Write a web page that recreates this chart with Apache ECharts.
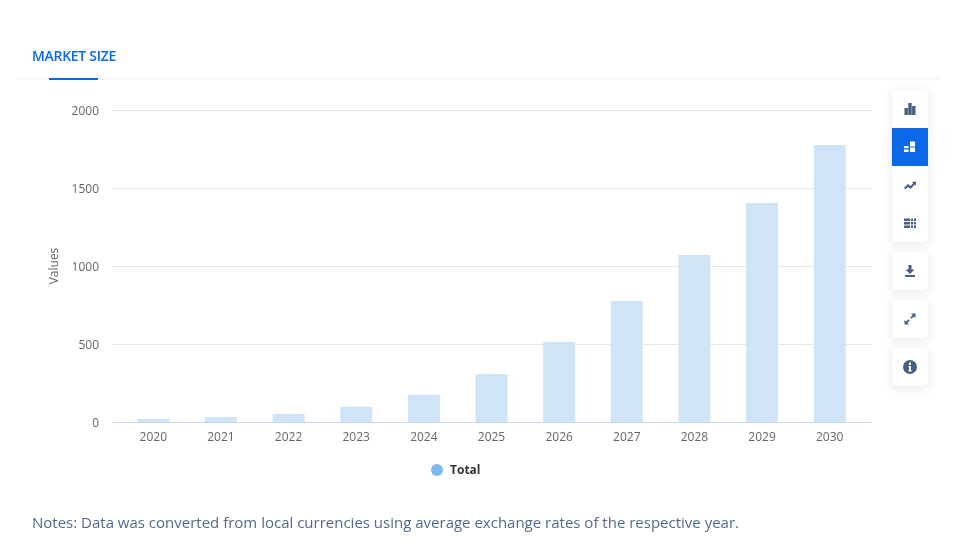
<!DOCTYPE html>
<html lang="en">

<head>
    <meta charset="UTF-8">
    <title>Market size</title>
    <style>
        html, body { margin: 0; padding: 0; background: #fff; font-family: "Open Sans", sans-serif; }
        #page { position: relative; width: 958px; height: 559px; overflow: hidden; }
        #main { position: absolute; left: 0; top: 0; width: 958px; height: 559px; }
        .tab { position: absolute; left: 32px; top: 46px; font-size: 14px; line-height: 19px; font-weight: 600; color: #0b68e8; letter-spacing: -0.3px; }
        .tabline { position: absolute; left: 17px; top: 78px; width: 922px; height: 2px; background: #f4f7fb; }
        .tabactive { position: absolute; left: 49px; top: 78px; width: 49px; height: 2px; background: #0b68e8; }
        .note { position: absolute; left: 32px; top: 512px; font-size: 15px; line-height: 21px; color: #54698a; white-space: nowrap; }
        .box { position: absolute; left: 892px; width: 36px; background: #fff; border-radius: 4px; box-shadow: 0 2px 10px rgba(60, 80, 120, 0.14); overflow: hidden; }
        .btn { width: 36px; height: 38px; display: flex; align-items: center; justify-content: center; }
        .btn.on { background: #0b68e8; }
        .btn svg { width: 14px; height: 14px; fill: #48607f; }
        .btn.on svg { fill: #fff; }
    </style>
</head>

<body>
    <div id="page">
        <div id="main"></div>
        <div class="tab">MARKET SIZE</div>
        <div class="tabline"></div>
        <div class="tabactive"></div>
        <div class="note">Notes: Data was converted from local currencies using average exchange rates of the respective year.</div>

        <div class="box" style="top:90px;">
            <div class="btn"><svg viewBox="0 0 14 14"><rect x="1.5" y="6" width="3.4" height="7"/><rect x="5.3" y="1" width="3.4" height="12"/><rect x="9.1" y="4" width="3.4" height="9"/></svg></div>
            <div class="btn on"><svg viewBox="0 0 14 14"><rect x="1" y="6" width="4.5" height="2.2"/><rect x="1" y="9.5" width="4.5" height="2.5"/><rect x="7" y="1.5" width="5" height="5"/><rect x="7" y="7.5" width="5" height="4.5"/></svg></div>
            <div class="btn"><svg viewBox="0 0 14 14"><path d="M1 9.8 L5 6 L7.5 8 L10.2 5.3 L9 4 L13 3.5 L13 7.7 L11.8 6.5 L7.6 11 L5 9 L2.4 11.6 Z"/></svg></div>
            <div class="btn"><svg viewBox="0 0 14 14"><rect x="1" y="2.5" width="6" height="2.5"/><rect x="1" y="6" width="6" height="2.5"/><rect x="1" y="9.5" width="6" height="2.5"/><rect x="8" y="2.5" width="2" height="2.5"/><rect x="11" y="2.5" width="2" height="2.5"/><rect x="8" y="6" width="2" height="2.5"/><rect x="11" y="6" width="2" height="2.5"/><rect x="8" y="9.5" width="2" height="2.5"/><rect x="11" y="9.5" width="2" height="2.5"/></svg></div>
        </div>
        <div class="box" style="top:252px;">
            <div class="btn"><svg viewBox="0 0 14 14"><path d="M5.5 1 H8.5 V5.5 H11.5 L7 10 L2.5 5.5 H5.5 Z"/><rect x="2" y="11" width="10" height="2"/></svg></div>
        </div>
        <div class="box" style="top:300px;">
            <div class="btn"><svg viewBox="0 0 14 14"><path d="M8 1.5 H12.5 V6 L10.9 4.4 L8.6 6.7 L7.3 5.4 L9.6 3.1 Z"/><path d="M6 12.5 H1.5 V8 L3.1 9.6 L5.4 7.3 L6.7 8.6 L4.4 10.9 Z"/></svg></div>
        </div>
        <div class="box" style="top:348px;">
            <div class="btn"><svg viewBox="0 0 14 14"><path fill-rule="evenodd" d="M7 0 A7 7 0 1 1 7 14 A7 7 0 1 1 7 0 Z M6 2.6 V5 H8 V2.6 Z M5.4 6 V7.2 H6 V10.2 H5.4 V11.4 H8.6 V10.2 H8 V6 Z"/></svg></div>
        </div>
    </div>
</body>
<script src="https://cdn.jsdelivr.net/npm/echarts@6/dist/echarts.min.js"></script>
<script>
    var myChart = echarts.init(document.getElementById('main'));
    var years = ['2020', '2021', '2022', '2023', '2024', '2025', '2026', '2027', '2028', '2029', '2030'];
    var total = [20, 32, 52, 97, 175, 308, 513, 776, 1071, 1404, 1776];

    // 两个grid: 第一个画网格线和轴线(比柱子区域宽), 第二个画柱子
    var option = {
        animation: false,
        textStyle: { fontFamily: '"Open Sans", sans-serif' },
        grid: [
            { left: 113, right: 87, top: 110, bottom: 137 },
            { left: 119.5, right: 94.5, top: 110, bottom: 137 }
        ],
        legend: {
            show: true,
            left: 426,
            top: 459,
            icon: 'circle',
            itemWidth: 12,
            itemHeight: 12,
            data: [{ name: 'Total', itemStyle: { color: '#7cb9ee' } }],
            textStyle: {
                color: '#333333',
                fontSize: 12,
                fontWeight: 'bold',
                rich: { t: { padding: [2, 0, 0, 2], fontSize: 12, fontWeight: 'bold', color: '#333333' } }
            },
            formatter: function (name) {
                return '{t|' + name + '}';
            }
        },
        xAxis: [
            {
                gridIndex: 0,
                type: 'category',
                data: [''],
                axisTick: { show: false },
                axisLabel: { show: false },
                axisLine: { lineStyle: { color: '#ccd6eb' } }
            },
            {
                gridIndex: 1,
                type: 'category',
                data: years,
                axisTick: { alignWithLabel: true, length: 10, lineStyle: { color: '#e6ebf5' } },
                axisLine: { show: false },
                axisLabel: { color: '#666666', fontSize: 12, margin: 10, interval: 0 }
            }
        ],
        yAxis: [
            {
                gridIndex: 0,
                type: 'value',
                min: 0,
                max: 2000,
                interval: 500,
                name: 'Values',
                nameLocation: 'middle',
                nameGap: 51,
                nameTextStyle: { color: '#666666', fontSize: 12 },
                axisLine: { show: false },
                axisTick: { show: false },
                axisLabel: {
                    color: '#666666',
                    fontSize: 12,
                    margin: 14,
                    formatter: function (value) {
                        return '{v|' + value + '}';
                    },
                    rich: { v: { padding: [3, 0, 0, 0], fontSize: 12, color: '#666666' } }
                },
                splitLine: { lineStyle: { color: '#e6e6e6' } }
            },
            {
                gridIndex: 1,
                type: 'value',
                min: 0,
                max: 2000,
                interval: 500,
                show: false
            }
        ],
        series: [
            {
                name: 'Total',
                type: 'bar',
                xAxisIndex: 1,
                yAxisIndex: 1,
                barWidth: 32,
                itemStyle: { color: '#d0e4f8' },
                data: total
            }
        ]
    };
    myChart.setOption(option);
</script>

</html>
